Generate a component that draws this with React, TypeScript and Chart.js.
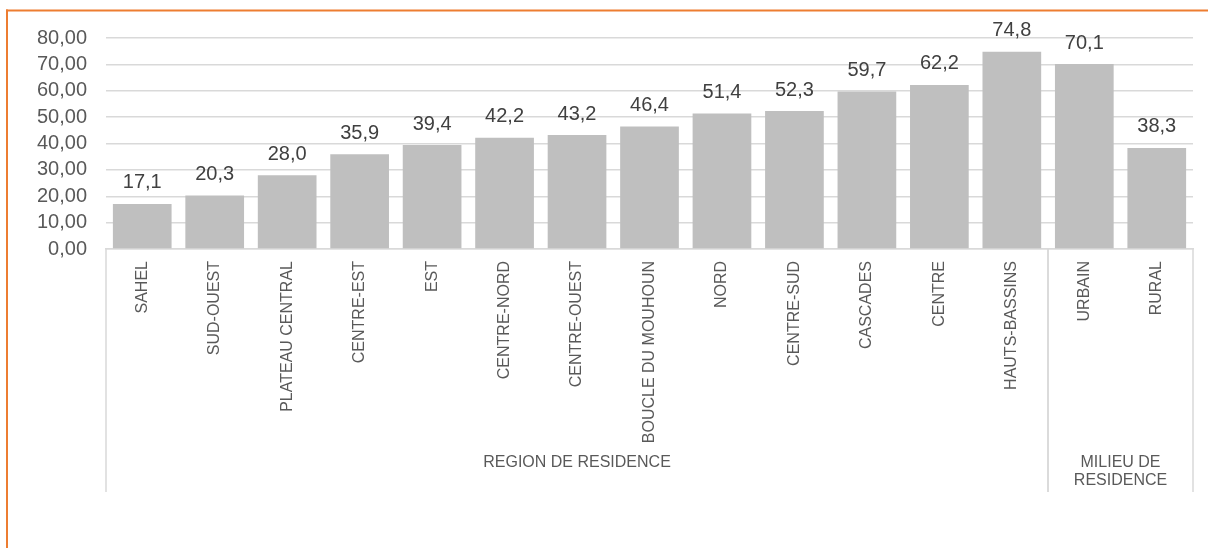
import React, { useEffect, useRef } from "react";
import { Chart, registerables } from "chart.js";

Chart.register(...registerables);

const categories = [
  "SAHEL",
  "SUD-OUEST",
  "PLATEAU CENTRAL",
  "CENTRE-EST",
  "EST",
  "CENTRE-NORD",
  "CENTRE-OUEST",
  "BOUCLE DU MOUHOUN",
  "NORD",
  "CENTRE-SUD",
  "CASCADES",
  "CENTRE",
  "HAUTS-BASSINS",
  "URBAIN",
  "RURAL",
];

const values = [17.1, 20.3, 28.0, 35.9, 39.4, 42.2, 43.2, 46.4, 51.4, 52.3, 59.7, 62.2, 74.8, 70.1, 38.3];

const groupLabels = [["REGION DE RESIDENCE"], ["MILIEU DE", "RESIDENCE"]];
const groupStarts = [0, 13];
const groupEnds = [12, 14];

const yMin = 0;
const yMax = 80;
const yStep = 10;

const FONT = "'Liberation Sans', Arial, sans-serif";
const GRID = "#D9D9D9";
const TEXT = "#595959";

const fmt = (v: number, d: number) => v.toFixed(d).replace(".", ",");

const frame = {
  id: "frame",
  beforeDraw(chart: any) {
    const ctx = chart.ctx;
    ctx.save();
    ctx.fillStyle = "#ffffff";
    ctx.fillRect(0, 0, chart.width, chart.height);
    ctx.fillStyle = "#ED7D31";
    ctx.fillRect(6, 9.5, 2, chart.height);
    ctx.fillRect(6, 9.5, chart.width, 2);
    ctx.restore();
  },
};

const valueLabels = {
  id: "valueLabels",
  afterDatasetsDraw(chart: any) {
    const ctx = chart.ctx;
    const meta = chart.getDatasetMeta(0);
    ctx.save();
    ctx.font = `20px ${FONT}`;
    ctx.fillStyle = "#404040";
    ctx.textAlign = "center";
    ctx.textBaseline = "alphabetic";
    meta.data.forEach((el: any, i: number) => {
      ctx.fillText(fmt(values[i], 1), el.x, el.y - 15.5);
    });
    ctx.restore();
  },
};

const groupAxis = {
  id: "groupAxis",
  afterDraw(chart: any) {
    const ctx = chart.ctx;
    const xs = chart.scales.x;
    const area = chart.chartArea;
    const n = categories.length;
    const w = (xs.right - xs.left) / n;
    const bottom = 492;
    ctx.save();
    ctx.strokeStyle = GRID;
    ctx.lineWidth = 1.5;
    const bounds = new Set<number>();
    groupStarts.forEach((s, gi) => {
      bounds.add(xs.getPixelForTick(s) - w / 2);
      bounds.add(xs.getPixelForTick(groupEnds[gi]) + w / 2);
    });
    bounds.forEach((bx) => {
      const x = Math.round(bx);
      ctx.beginPath();
      ctx.moveTo(x, area.bottom);
      ctx.lineTo(x, bottom);
      ctx.stroke();
    });
    ctx.font = `16px ${FONT}`;
    ctx.fillStyle = TEXT;
    ctx.textAlign = "center";
    ctx.textBaseline = "middle";
    groupLabels.forEach((lines, gi) => {
      const l = xs.getPixelForTick(groupStarts[gi]) - w / 2;
      const r = xs.getPixelForTick(groupEnds[gi]) + w / 2;
      const cx = (l + r) / 2;
      lines.forEach((t, li) => {
        ctx.fillText(t, cx, 463 + li * 18);
      });
    });
    ctx.restore();
  },
};

export default function App() {
  const ref = useRef<HTMLCanvasElement | null>(null);
  useEffect(() => {
    if (!ref.current) return;
    const chart = new Chart(ref.current, {
      type: "bar",
      data: {
        labels: categories,
        datasets: [
          {
            data: values,
            backgroundColor: "#BFBFBF",
            borderWidth: 0,
            categoryPercentage: 1,
            barPercentage: 0.81,
          },
        ],
      },
      options: {
        responsive: false,
        animation: false,
        devicePixelRatio: 1,
        layout: { padding: { top: 38, right: 15, bottom: 0, left: 0 } },
        plugins: {
          legend: { display: false },
          tooltip: { enabled: false },
          title: { display: false },
        },
        scales: {
          x: {
            grid: { display: false, drawTicks: false },
            border: { display: true, color: GRID, width: 1.5 },
            ticks: {
              autoSkip: false,
              minRotation: 90,
              maxRotation: 90,
              padding: 12,
              color: TEXT,
              font: { family: FONT, size: 16 },
            },
            afterFit: (s: any) => {
              s.height = 548 - 249;
            },
          },
          y: {
            min: yMin,
            max: yMax,
            grid: { color: GRID, lineWidth: 1.5, drawTicks: false },
            border: { display: false },
            ticks: {
              stepSize: yStep,
              autoSkip: false,
              padding: 19,
              color: TEXT,
              font: { family: FONT, size: 20 },
              callback: (v: any) => fmt(Number(v), 2),
            },
            afterFit: (s: any) => {
              s.width = 106;
            },
          },
        },
      },
      plugins: [frame, valueLabels, groupAxis],
    });
    return () => chart.destroy();
  }, []);
  return (
    <div style={{ position: "absolute", left: 0, top: 0, width: 1208, height: 548 }}>
      <canvas ref={ref} width={1208} height={548} />
    </div>
  );
}
